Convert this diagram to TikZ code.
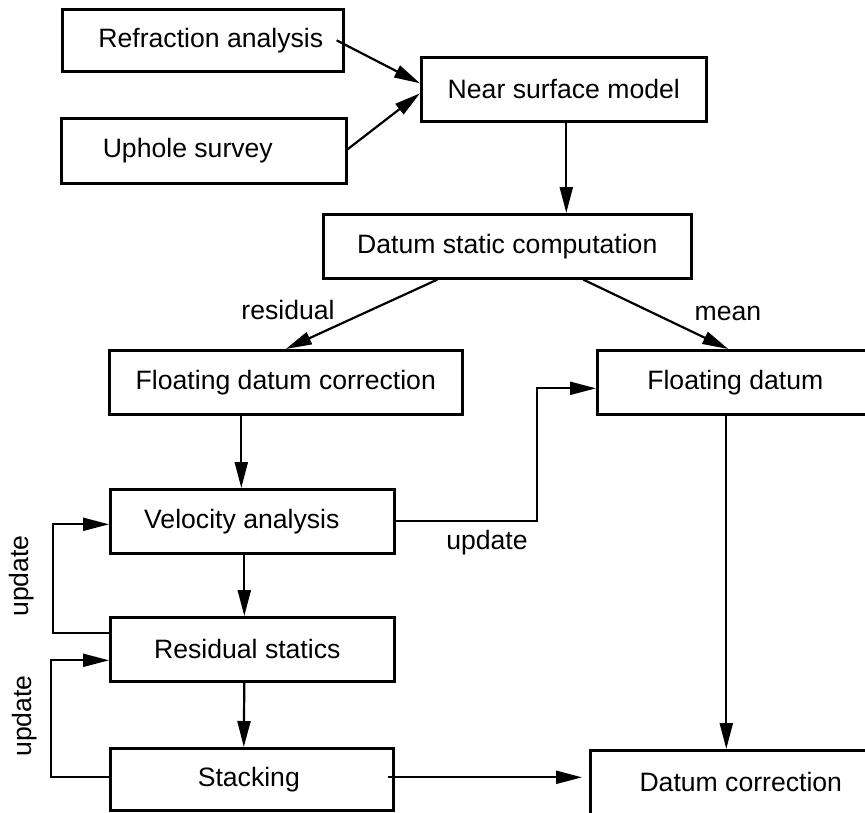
\documentclass[tikz,border=0pt]{standalone}
\usepackage{fontspec}
\setmainfont{Liberation Sans}
\usetikzlibrary{arrows.meta}

\begin{document}
\begin{tikzpicture}[x=1pt,y=-1pt,
  every node/.style={font=\fontsize{26.6}{30}\selectfont},
  box/.style={draw, line width=2.6pt, inner sep=0pt, anchor=north west},
  arr/.style={line width=2.2pt, -{Triangle[length=26pt,width=13pt]}},
  lbl/.style={inner sep=0pt}]
  \useasboundingbox (0,0) rectangle (865,812);
  \clip (0,0) rectangle (865,812);

  % process boxes
  \node[box, minimum width=281, minimum height=62] (ref) at (61,8) {\hspace*{16pt}Refraction analysis};
  \node[box, minimum width=285, minimum height=65] (uph) at (60,117) {Uphole survey\hspace*{32pt}};
  \node[box, minimum width=285, minimum height=64] (nsm) at (420,56) {Near surface model};
  \node[box, minimum width=368, minimum height=64] (dsc) at (322,213) {Datum static computation};
  \node[box, minimum width=353, minimum height=64] (fdc) at (108,349) {Floating datum correction};
  \node[box, minimum width=276, minimum height=64] (fd)  at (596,349) {Floating datum};
  \node[box, minimum width=284, minimum height=64] (vel) at (109,488) {Velocity analysis\hspace*{21pt}};
  \node[box, minimum width=284, minimum height=64] (res) at (109,616) {Residual statics\hspace*{10pt}};
  \node[box, minimum width=283, minimum height=62] (stk) at (109,747) {Stacking\hspace*{6pt}};
  \node[box, minimum width=301, minimum height=64] (dc)  at (589,749) {Datum correction};

  % inputs to the near surface model
  \draw[arr] ([xshift=-8]ref.east) -- ([yshift=6]nsm.west);
  \draw[arr] ([xshift=-2]uph.east) -- ([yshift=-4]nsm.west);
  \draw[arr] ([xshift=2.5]nsm.south) -- ([xshift=2.5]nsm.south |- dsc.north);

  % residual and mean parts of the datum statics
  \draw[arr] ([xshift=-70]dsc.south) -- (fdc.north);
  \draw[arr] ([xshift=76]dsc.south) -- ([xshift=-7]fd.north);
  \node[lbl] (lres) at (288,310) {residual};
  \node[lbl] (lmean) at (728,313) {mean};

  % main processing chain
  \draw[arr] ([xshift=-11]vel.north |- fdc.south) -- ([xshift=-11]vel.north);
  \draw[arr] ([xshift=-8]vel.south) -- ([xshift=-8]res.north);
  \draw[arr] ([xshift=-8]res.south) -- ([xshift=-8]stk.north);

  % iteration loops
  \draw[arr] ([yshift=16]res.west) -- ++(-56,0) |- ([yshift=-3]vel.west);
  \draw[arr] ([yshift=2]stk.west) -- ++(-58,0) |- ([yshift=-11]res.west);
  \node[lbl, rotate=90] (lup1) at (22,576) {update};
  \node[lbl, rotate=90] (lup2) at (25,716) {update};

  % floating datum update and final correction
  \draw[arr] ([xshift=-3]vel.east) -- ++(144,0) |- ([yshift=-6]fd.west);
  \node[lbl] (lup3) at (487,543) {update};
  \draw[arr] ([xshift=-9]fd.south) -- ([xshift=-9]fd.south |- dc.north);
  \draw[arr] ([xshift=-7,yshift=2]stk.east) -- ([xshift=-7,yshift=2]stk.east -| dc.west);
\end{tikzpicture}
\end{document}
